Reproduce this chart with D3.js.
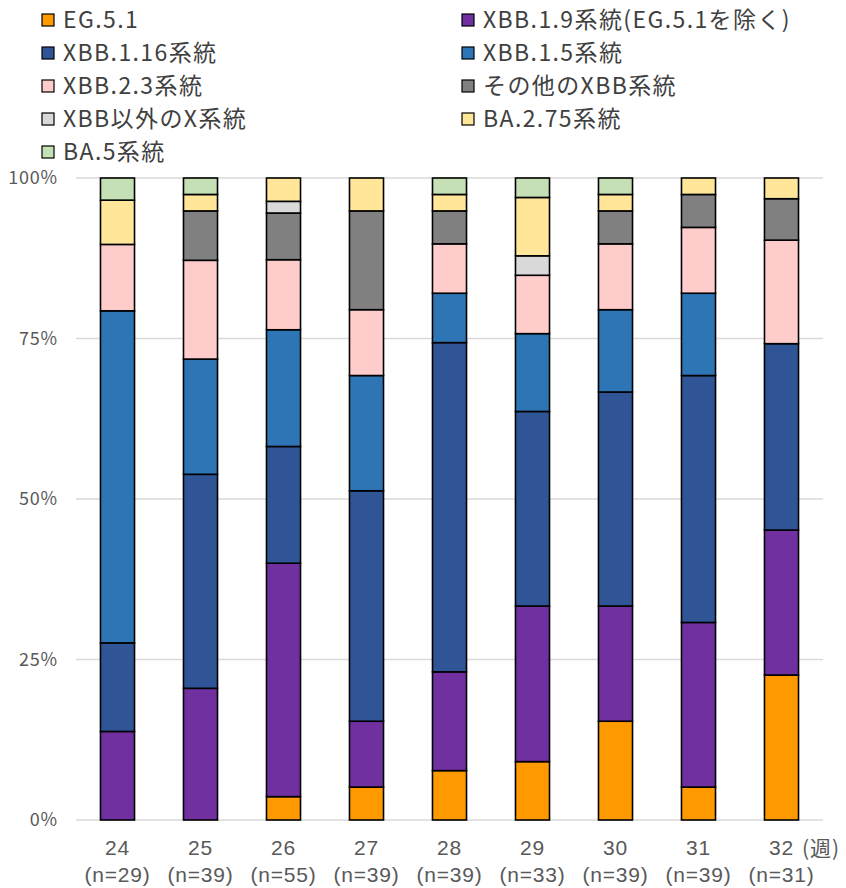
<!DOCTYPE html>
<html>
<head>
<meta charset="utf-8">
<script src="https://cdn.jsdelivr.net/npm/d3@7"></script>
<style>
  html, body { margin: 0; padding: 0; background: #fff; }
  svg { display: block; font-family: "Noto Sans CJK JP", "Noto Sans", sans-serif; }
</style>
</head>
<body>
<svg id="chart" width="846" height="888"></svg>
<script>
// Weekly lineage counts (epi week) and sample sizes
const weeks = ["24", "25", "26", "27", "28", "29", "30", "31", "32"];
const sampleSizes = [29, 39, 55, 39, 39, 33, 39, 39, 31];

const lineages = [
  "EG.5.1",
  "XBB.1.9系統(EG.5.1を除く)",
  "XBB.1.16系統",
  "XBB.1.5系統",
  "XBB.2.3系統",
  "その他のXBB系統",
  "XBB以外のX系統",
  "BA.2.75系統",
  "BA.5系統"
];

const eg51      = [0, 0, 2, 2, 3, 3, 6, 2, 7];
const xbb19     = [4, 8, 20, 4, 6, 8, 7, 10, 7];
const xbb116    = [4, 13, 10, 14, 20, 10, 13, 15, 9];
const xbb15     = [15, 7, 10, 7, 3, 4, 5, 5, 0];
const xbb23     = [3, 6, 6, 4, 3, 3, 4, 4, 5];
const otherXbb  = [0, 3, 4, 6, 2, 0, 2, 2, 2];
const nonXbbX   = [0, 0, 1, 0, 0, 1, 0, 0, 0];
const ba275     = [2, 1, 2, 2, 1, 3, 1, 1, 1];
const ba5       = [1, 1, 0, 0, 1, 1, 1, 0, 0];

const yTicks = [0, 0.25, 0.5, 0.75, 1];

const seriesCounts = [eg51, xbb19, xbb116, xbb15, xbb23, otherXbb, nonXbbX, ba275, ba5];
const colors = ["#FF9900", "#7030A0", "#2F5597", "#2E75B6", "#FFCCCC", "#808080", "#D9D9D9", "#FFE699", "#C5E0B4"];

// Share of each lineage per week
const rows = weeks.map((w, i) => {
  const row = { week: w };
  lineages.forEach((name, k) => { row[name] = seriesCounts[k][i] / sampleSizes[i]; });
  return row;
});

const svg = d3.select("#chart");

const x = d3.scaleBand()
  .domain(weeks)
  .range([76, 823])
  .paddingInner(0.59)
  .paddingOuter(0.295);

const y = d3.scaleLinear().domain([0, 1]).range([820, 178]);

// Gridlines
svg.append("g")
  .selectAll("line")
  .data(yTicks)
  .join("line")
  .attr("x1", 76).attr("x2", 823)
  .attr("y1", d => y(d)).attr("y2", d => y(d))
  .attr("stroke", "#D9D9D9")
  .attr("stroke-width", 1.5);

// Y axis labels
const yAxis = d3.axisLeft(y).tickValues(yTicks).tickFormat(d3.format(".0%")).tickSize(0).tickPadding(0);
const yg = svg.append("g").attr("transform", "translate(58,0)").call(yAxis);
yg.select(".domain").remove();
yg.selectAll("text")
  .attr("font-size", 18)
  .attr("letter-spacing", 0.8)
  .attr("fill", "#595959")
  .attr("font-family", "'Noto Sans CJK JP', sans-serif");

// Stacked bars
const stack = d3.stack().keys(lineages);
const layers = stack(rows);

svg.append("g")
  .selectAll("g")
  .data(layers)
  .join("g")
  .attr("fill", (d, i) => colors[i])
  .selectAll("rect")
  .data(d => d.filter(p => p[1] - p[0] > 0))
  .join("rect")
  .attr("x", d => x(d.data.week))
  .attr("width", x.bandwidth())
  .attr("y", d => y(d[1]))
  .attr("height", d => y(d[0]) - y(d[1]))
  .attr("stroke", "#000")
  .attr("stroke-width", 1.6);

// X axis labels: week and sample size
const xAxis = d3.axisBottom(x).tickSize(0).tickPadding(0);
const xg = svg.append("g").attr("transform", "translate(0,820)").call(xAxis);
xg.select(".domain").remove();
xg.selectAll(".tick text").remove();
xg.selectAll(".tick").each(function(w, i) {
  const t = d3.select(this);
  t.append("text")
    .attr("y", 35)
    .attr("text-anchor", "middle")
    .attr("font-size", 21)
    .attr("letter-spacing", 0.8)
    .attr("fill", "#595959")
    .text(w);
  t.append("text")
    .attr("y", 62)
    .attr("text-anchor", "middle")
    .attr("font-size", 21)
    .attr("letter-spacing", 0.8)
    .attr("fill", "#595959")
    .text(`(n=${sampleSizes[i]})`);
});
svg.append("text")
  .attr("x", 802).attr("y", 856)
  .attr("font-size", 21)
  .attr("letter-spacing", 1)
  .attr("fill", "#595959")
  .text("(週)");

// Legend (two columns)
const legend = svg.append("g");
lineages.forEach((name, k) => {
  const col = k % 2, row = Math.floor(k / 2);
  const lx = col === 0 ? 42 : 462;
  const ly = 20 + row * 33;
  legend.append("rect")
    .attr("x", lx).attr("y", ly - 6)
    .attr("width", 12).attr("height", 12)
    .attr("fill", colors[k])
    .attr("stroke", "#000").attr("stroke-width", 1.2);
  legend.append("text")
    .attr("x", lx + 21).attr("y", ly)
    .attr("dy", "0.36em")
    .attr("font-size", 23)
    .attr("letter-spacing", 1.4)
    .attr("fill", "#404040")
    .text(name);
});
</script>
</body>
</html>
